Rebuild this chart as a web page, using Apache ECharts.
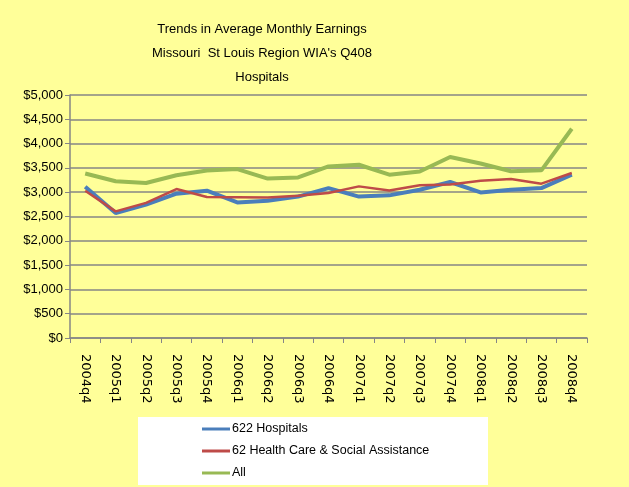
<!DOCTYPE html>
<html>
<head>
<meta charset="utf-8">
<script src="https://cdn.jsdelivr.net/npm/echarts@6/dist/echarts.min.js"></script>
<style>
html, body { margin: 0; padding: 0; background: #FFFF99; }
#container { width: 629px; height: 487px; }
</style>
</head>
<body>
<div id="container"></div>
<script>
// quarters
var quarters = ['2004q4', '2005q1', '2005q2', '2005q3', '2005q4', '2006q1', '2006q2', '2006q3', '2006q4',
    '2007q1', '2007q2', '2007q3', '2007q4', '2008q1', '2008q2', '2008q3', '2008q4'];
// 622 Hospitals
var hospitals = [3110, 2570, 2745, 2970, 3030, 2790, 2825, 2910, 3085, 2910, 2935, 3050, 3210, 2995, 3050, 3085, 3360];
// 62 Health Care & Social Assistance
var healthCare = [3030, 2605, 2780, 3065, 2900, 2895, 2890, 2925, 2985, 3120, 3035, 3145, 3160, 3235, 3270, 3175, 3395];
// All
var allIndustries = [3385, 3225, 3190, 3350, 3445, 3475, 3280, 3305, 3530, 3565, 3360, 3425, 3725, 3590, 3430, 3450, 4305];

var seriesNames = ['622 Hospitals', '62 Health Care & Social Assistance', 'All'];

var dom = document.getElementById('container');
var myChart = echarts.init(dom);
var textFont = '"Liberation Sans", sans-serif';

var option = {
    backgroundColor: '#FFFF99',
    animation: false,
    title: {
        text: 'Trends in Average Monthly Earnings\nMissouri  St Louis Region WIA\'s Q408\nHospitals',
        left: 257,
        top: 12,
        textAlign: 'center',
        textStyle: {
            fontFamily: textFont,
            fontSize: 13,
            fontWeight: 'normal',
            color: '#000',
            lineHeight: 24
        }
    },
    graphic: [{
        type: 'rect',
        shape: { x: 138, y: 417, width: 350, height: 68 },
        style: { fill: '#ffffff' },
        z: -1
    }],
    legend: {
        orient: 'vertical',
        left: 202,
        top: 422,
        padding: 0,
        itemGap: 8,
        itemWidth: 28,
        itemHeight: 3,
        icon: 'rect',
        data: seriesNames,
        textStyle: { fontFamily: textFont, fontSize: 12.5, lineHeight: 14, color: '#000', padding: [0, 0, 0, -3] }
    },
    grid: { left: 70, right: 42, top: 95, bottom: 149 },
    xAxis: {
        type: 'category',
        data: quarters,
        boundaryGap: true,
        axisLine: { lineStyle: { color: '#868686', width: 1.5 } },
        axisTick: { show: true, length: 5, lineStyle: { color: '#868686' } },
        axisLabel: {
            rotate: -90,
            interval: 0,
            margin: 16,
            fontFamily: '"DejaVu Sans", sans-serif',
            fontSize: 13,
            color: '#000'
        }
    },
    yAxis: {
        type: 'value',
        min: 0,
        max: 5000,
        interval: 500,
        axisLine: { show: true, lineStyle: { color: '#868686', width: 1.5 } },
        axisTick: { show: true, length: 5, lineStyle: { color: '#868686' } },
        splitLine: { lineStyle: { color: '#868686', width: 1.5 } },
        axisLabel: {
            margin: 7,
            fontFamily: textFont,
            fontSize: 13,
            color: '#000',
            formatter: function (v) {
                return '$' + v.toString().replace(/\B(?=(\d{3})+(?!\d))/g, ',');
            }
        }
    },
    series: [
        {
            name: seriesNames[0],
            type: 'line',
            data: hospitals,
            symbol: 'none',
            color: '#4A7EBB',
            lineStyle: { width: 4, color: '#4A7EBB' },
            z: 2
        },
        {
            name: seriesNames[1],
            type: 'line',
            data: healthCare,
            symbol: 'none',
            color: '#BE4B48',
            lineStyle: { width: 2.5, color: '#BE4B48' },
            z: 3
        },
        {
            name: seriesNames[2],
            type: 'line',
            data: allIndustries,
            symbol: 'none',
            color: '#98B954',
            lineStyle: { width: 4, color: '#98B954' },
            z: 1
        }
    ]
};

if (option && typeof option === 'object') {
    myChart.setOption(option, true);
}
</script>
</body>
</html>
